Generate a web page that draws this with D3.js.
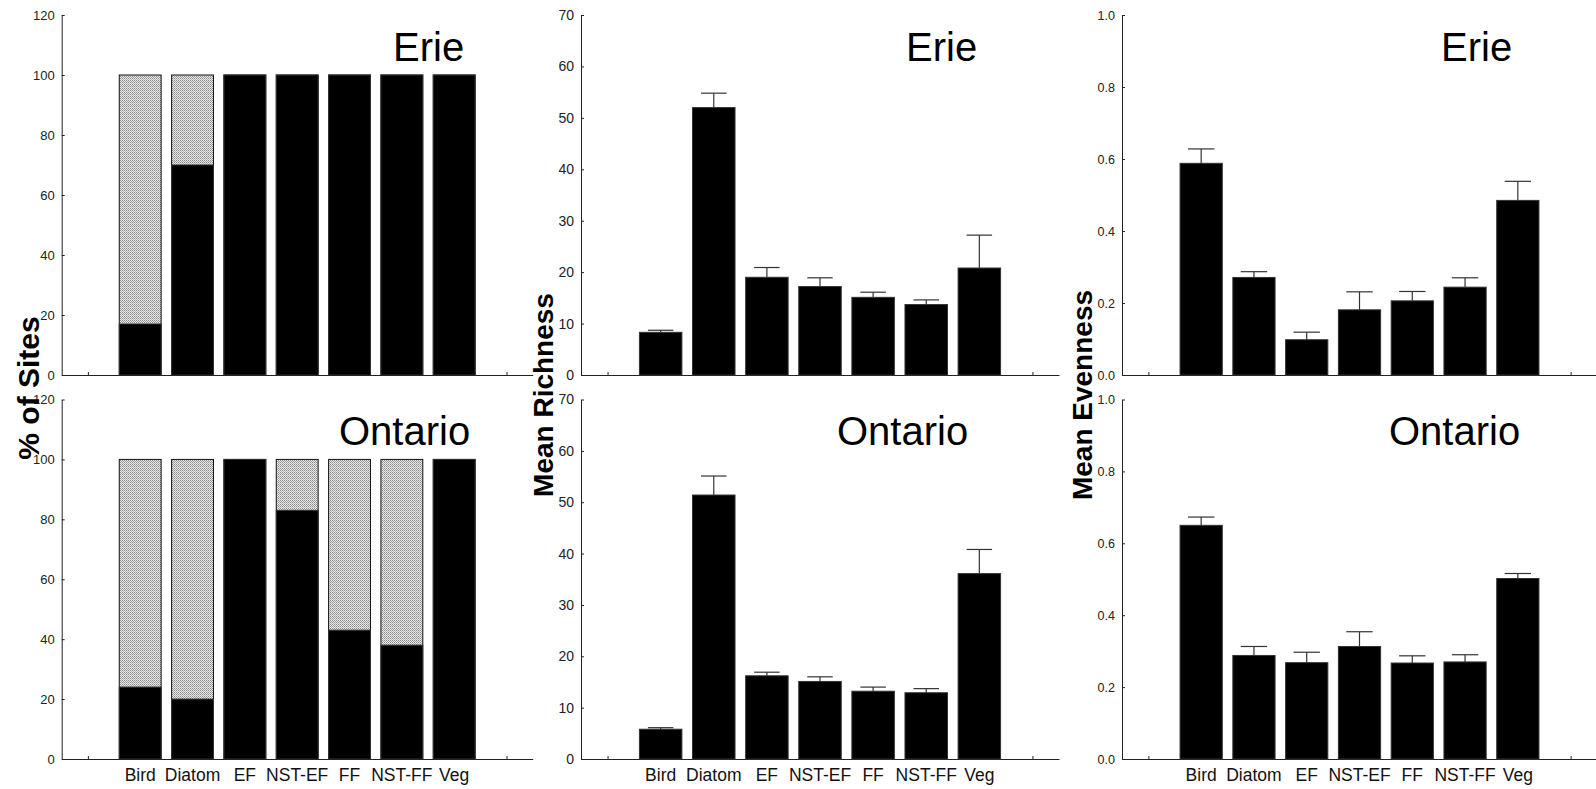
<!DOCTYPE html>
<html>
<head>
<meta charset="utf-8">
<script src="https://cdn.jsdelivr.net/npm/d3@7"></script>
<style>
  html, body { margin: 0; padding: 0; background: #fff; }
  svg { display: block; font-family: Arial, "Liberation Sans", sans-serif; }
</style>
</head>
<body>
<svg id="chart" width="1596" height="789"></svg>
<script>
// ---------- DATA ----------
const categories = ["Bird", "Diatom", "EF", "NST-EF", "FF", "NST-FF", "Veg"];

// % of Sites (black portion; grey fills up to total)
const sitesErieBlack    = [17, 70, 100, 100, 100, 100, 100];
const sitesErieTotal    = [100, 100, 100, 100, 100, 100, 100];
const sitesOntarioBlack = [24, 20, 100, 83, 43, 38, 100];
const sitesOntarioTotal = [100, 100, 100, 100, 100, 100, 100];

// Mean Richness (mean, upper error bar end)
const richErieMean    = [8.3, 52.0, 19.0, 17.2, 15.1, 13.7, 20.8];
const richErieUpper   = [8.7, 54.8, 20.9, 18.9, 16.1, 14.6, 27.2];
const richOntarioMean = [5.8, 51.4, 16.2, 15.1, 13.2, 12.9, 36.1];
const richOntarioUpper= [6.1, 55.1, 16.9, 16.0, 14.0, 13.7, 40.8];

// Mean Evenness (mean, upper error bar end)
const evenErieMean    = [0.588, 0.271, 0.098, 0.181, 0.206, 0.244, 0.485];
const evenErieUpper   = [0.628, 0.287, 0.119, 0.231, 0.232, 0.270, 0.538];
const evenOntarioMean = [0.650, 0.288, 0.268, 0.313, 0.267, 0.270, 0.502];
const evenOntarioUpper= [0.673, 0.313, 0.297, 0.354, 0.287, 0.290, 0.516];

const sitesTicks = [0, 20, 40, 60, 80, 100, 120];
const richTicks  = [0, 10, 20, 30, 40, 50, 60, 70];
const evenTicks  = [0, 0.2, 0.4, 0.6, 0.8, 1.0];

const yTitles = ["% of Sites", "Mean Richness", "Mean Evenness"];
const lakeNames = ["Erie", "Ontario"];

// ---------- LAYOUT ----------
const svg = d3.select("#chart");

const defs = svg.append("defs");
const pat = defs.append("pattern")
  .attr("id", "hatch").attr("patternUnits", "userSpaceOnUse")
  .attr("width", 4).attr("height", 4);
pat.append("rect").attr("width", 4).attr("height", 4).attr("fill", "#e8e8e8");
[[0,0,"#8c8c8c"],[2,0,"#8c8c8c"],[1,1,"#a0a0a0"],[3,1,"#a0a0a0"],
 [0,2,"#8c8c8c"],[2,2,"#8c8c8c"],[1,3,"#b4b4b4"],[3,3,"#b4b4b4"]].forEach(p => {
  pat.append("rect").attr("x", p[0]).attr("y", p[1]).attr("width", 1).attr("height", 1).attr("fill", p[2]);
});

const cols = [
  { x0: 61.7, x1: 532.7, tickFont: 13, ticks: sitesTicks, fmt: d3.format("d"), ymax: 120,
    ylabX: 39, ylabY: 388, ylabSize: 30, capHalf: 0.24 },
  { x0: 581, x1: 1059, tickFont: 14, ticks: richTicks, fmt: d3.format("d"), ymax: 70,
    ylabX: 553, ylabY: 395, ylabSize: 28, capHalf: 0.24 },
  { x0: 1122, x1: 1597, tickFont: 12.5, ticks: evenTicks, fmt: d3.format(".1f"), ymax: 1.0,
    ylabX: 1092, ylabY: 395, ylabSize: 28, capHalf: 0.25 }
];
const rows = [ { yTop: 15, yBase: 375 }, { yTop: 399.5, yBase: 759 } ];
const titlePos = [
  [ { x: 393, y: 61 }, { x: 339, y: 445 } ],
  [ { x: 906, y: 61 }, { x: 837, y: 445 } ],
  [ { x: 1441, y: 61 }, { x: 1389, y: 445 } ]
];

const panelData = [
  [ { black: sitesErieBlack, total: sitesErieTotal }, { black: sitesOntarioBlack, total: sitesOntarioTotal } ],
  [ { mean: richErieMean, upper: richErieUpper }, { mean: richOntarioMean, upper: richOntarioUpper } ],
  [ { mean: evenErieMean, upper: evenErieUpper }, { mean: evenOntarioMean, upper: evenOntarioUpper } ]
];

const barHalf = 0.4;

cols.forEach((c, ci) => {
  rows.forEach((r, ri) => {
    const x = d3.scaleLinear().domain([-0.5, 8.5]).range([c.x0, c.x1]);
    const y = d3.scaleLinear().domain([0, c.ymax]).range([r.yBase, r.yTop]);
    const g = svg.append("g");
    const d = panelData[ci][ri];

    // x axis (baseline with small inward ticks at 0 and 8)
    g.append("g").attr("transform", `translate(0,${r.yBase})`)
      .call(d3.axisBottom(x).tickValues([0, 8]).tickSizeInner(-3).tickSizeOuter(0).tickFormat(""))
      .call(s => s.selectAll("path,line").attr("stroke", "#222"));

    // y axis
    g.append("g").attr("transform", `translate(${c.x0},0)`)
      .call(d3.axisLeft(y).tickValues(c.ticks).tickFormat(c.fmt).tickSizeInner(-3).tickSizeOuter(0).tickPadding(7))
      .call(s => s.selectAll("path,line").attr("stroke", "#222"))
      .call(s => s.selectAll("text").attr("font-size", c.tickFont).attr("fill", "#222")
        .attr("font-family", "Arial, 'Liberation Sans', sans-serif"));

    const idx = d3.range(categories.length);
    if (ci === 0) {
      g.selectAll(".grey").data(idx).join("rect")
        .attr("x", i => x(i + 1 - barHalf))
        .attr("width", i => x(i + 1 + barHalf) - x(i + 1 - barHalf))
        .attr("y", i => y(d.total[i]))
        .attr("height", i => y(0) - y(d.total[i]))
        .attr("fill", "url(#hatch)").attr("stroke", "#111").attr("stroke-width", 1);
      g.selectAll(".blk").data(idx).join("rect")
        .attr("x", i => x(i + 1 - barHalf))
        .attr("width", i => x(i + 1 + barHalf) - x(i + 1 - barHalf))
        .attr("y", i => y(d.black[i]))
        .attr("height", i => y(0) - y(d.black[i]))
        .attr("fill", "#000").attr("stroke", "#333").attr("stroke-width", 1);
    } else {
      g.selectAll(".err").data(idx).join("line")
        .attr("x1", i => x(i + 1)).attr("x2", i => x(i + 1))
        .attr("y1", i => y(d.mean[i])).attr("y2", i => y(d.upper[i]))
        .attr("stroke", "#333").attr("stroke-width", 1.2);
      g.selectAll(".cap").data(idx).join("line")
        .attr("x1", i => x(i + 1 - c.capHalf)).attr("x2", i => x(i + 1 + c.capHalf))
        .attr("y1", i => y(d.upper[i])).attr("y2", i => y(d.upper[i]))
        .attr("stroke", "#333").attr("stroke-width", 1.2);
      g.selectAll(".bar").data(idx).join("rect")
        .attr("x", i => x(i + 1 - barHalf))
        .attr("width", i => x(i + 1 + barHalf) - x(i + 1 - barHalf))
        .attr("y", i => y(d.mean[i]))
        .attr("height", i => y(0) - y(d.mean[i]))
        .attr("fill", "#000").attr("stroke", "#333").attr("stroke-width", 1);
    }

    // lake title
    g.append("text")
      .attr("x", titlePos[ci][ri].x).attr("y", titlePos[ci][ri].y)
      .attr("font-size", 40).attr("fill", "#000")
      .text(lakeNames[ri]);

    // category labels (bottom row only)
    if (ri === 1) {
      g.selectAll(".cat").data(categories).join("text")
        .attr("x", (t, i) => x(i + 1)).attr("y", r.yBase + 22)
        .attr("text-anchor", "middle").attr("font-size", 17.5).attr("fill", "#111")
        .text(t => t);
    }
  });

  // y axis title
  svg.append("text")
    .attr("transform", `translate(${c.ylabX},${c.ylabY}) rotate(-90)`)
    .attr("text-anchor", "middle").attr("font-weight", "bold")
    .attr("font-size", c.ylabSize).attr("fill", "#000")
    .text(yTitles[ci]);
});
</script>
</body>
</html>
